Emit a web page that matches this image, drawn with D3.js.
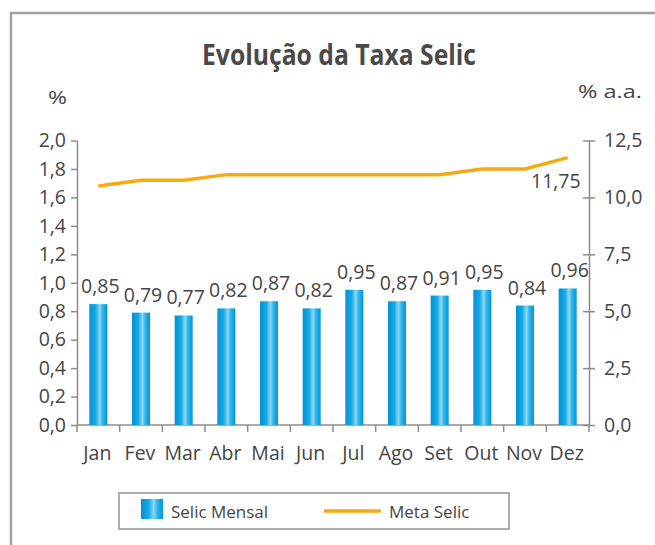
<!DOCTYPE html>
<html lang="pt">
<head>
<meta charset="UTF-8">
<title>Evolução da Taxa Selic</title>
<style>
  body { margin: 0; background: #fff; }
  text { font-family: "Open Sans", "Noto Sans", sans-serif; fill: #454545; }
  .axis path, .axis line { stroke: #8c8c8c; stroke-width: 1.5px; }
  .axis text { font-size: 19.5px; fill: #454545; }
</style>
<script src="https://d3js.org/d3.v7.min.js"></script>
</head>
<body>
<script>
// data
const months = ["Jan", "Fev", "Mar", "Abr", "Mai", "Jun", "Jul", "Ago", "Set", "Out", "Nov", "Dez"];
const selicMensal = [0.85, 0.79, 0.77, 0.82, 0.87, 0.82, 0.95, 0.87, 0.91, 0.95, 0.84, 0.96];
const metaSelic = [10.5, 10.75, 10.75, 11.0, 11.0, 11.0, 11.0, 11.0, 11.0, 11.25, 11.25, 11.75];
const leftTicks = [0, 0.2, 0.4, 0.6, 0.8, 1.0, 1.2, 1.4, 1.6, 1.8, 2.0];
const rightTicks = [0, 2.5, 5.0, 7.5, 10.0, 12.5];

const width = 655, height = 545;
const loc = d3.formatLocale({ decimal: ",", thousands: ".", grouping: [3], currency: ["R$", ""] });
const f1 = loc.format(".1f"), f2 = loc.format(".2f");

const svg = d3.select("body").append("svg")
  .attr("width", width).attr("height", height);

// gradient for the bars
const grad = svg.append("defs").append("linearGradient")
  .attr("id", "barGrad").attr("x1", "0%").attr("x2", "100%").attr("y1", "0%").attr("y2", "0%");
[["0%", "#0093d5"], ["35%", "#16a8e3"], ["58%", "#8ad8f5"], ["75%", "#2db3e8"], ["100%", "#0096d8"]]
  .forEach(([o, c]) => grad.append("stop").attr("offset", o).attr("stop-color", c));

// frame
svg.append("rect")
  .attr("x", 11).attr("y", 13).attr("width", 700).attr("height", 600)
  .attr("fill", "none").attr("stroke", "#a3a3a3").attr("stroke-width", 2.5);

// title
svg.append("text")
  .attr("x", 339).attr("y", 65)
  .attr("text-anchor", "middle")
  .attr("font-size", 28).attr("font-weight", "bold")
  .attr("textLength", 274).attr("lengthAdjust", "spacingAndGlyphs")
  .style("fill", "#4a4a4a")
  .text("Evolução da Taxa Selic");

svg.append("text").attr("x", 48).attr("y", 104).attr("font-size", 19)
  .attr("textLength", 19).attr("lengthAdjust", "spacingAndGlyphs").text("%");
svg.append("text").attr("x", 578).attr("y", 98).attr("font-size", 19)
  .attr("textLength", 64).attr("lengthAdjust", "spacingAndGlyphs").text("% a.a.");

const x0 = 77, x1 = 589, yBottom = 425, yTop = 140.5;
const x = d3.scaleBand().domain(months).range([x0, x1]).padding(0);
const yL = d3.scaleLinear().domain([0, 2]).range([yBottom, yTop]);
const yR = d3.scaleLinear().domain([0, 12.5]).range([yBottom, yTop]);

// left axis
svg.append("g").attr("class", "axis").attr("transform", `translate(${x0},0)`)
  .call(d3.axisLeft(yL).tickValues(leftTicks).tickFormat(f1).tickSize(6).tickSizeOuter(0).tickPadding(5));

// right axis, ticks cross the line
const gR = svg.append("g").attr("class", "axis").attr("transform", `translate(${x1},0)`)
  .call(d3.axisRight(yR).tickValues(rightTicks).tickFormat(f1).tickSize(6).tickSizeOuter(0).tickPadding(9));
gR.selectAll(".tick line").attr("x1", -6);

// bottom axis
const gB = svg.append("g").attr("class", "axis");
gB.append("line").attr("x1", x0).attr("x2", x1).attr("y1", yBottom).attr("y2", yBottom);
gB.selectAll(".tk").data(months.concat(["end"])).enter().append("line")
  .attr("x1", (d, i) => i < months.length ? x(d) : x1)
  .attr("x2", (d, i) => i < months.length ? x(d) : x1)
  .attr("y1", yBottom).attr("y2", yBottom + 7);
gB.selectAll(".lbl").data(months).enter().append("text")
  .attr("x", d => x(d) + x.bandwidth() / 2 - 1).attr("y", 460)
  .attr("text-anchor", "middle")
  .text(d => d);

// bars
const barW = 18;
svg.selectAll(".bar").data(selicMensal).enter().append("rect")
  .attr("x", (d, i) => x(months[i]) + x.bandwidth() / 2 - barW / 2)
  .attr("y", d => yL(d))
  .attr("width", barW)
  .attr("height", d => yBottom - yL(d))
  .attr("fill", "url(#barGrad)");

svg.selectAll(".blabel").data(selicMensal).enter().append("text")
  .attr("x", (d, i) => x(months[i]) + x.bandwidth() / 2 + 2)
  .attr("y", d => yL(d) - 11)
  .attr("text-anchor", "middle")
  .attr("font-size", 19.5)
  .text(d => f2(d));

// meta line
const line = d3.line()
  .x((d, i) => x(months[i]) + x.bandwidth() / 2)
  .y(d => yR(d));
svg.append("path").datum(metaSelic)
  .attr("d", line)
  .attr("fill", "none").attr("stroke", "#f7a912").attr("stroke-width", 3.5);

const last = metaSelic.length - 1;
svg.append("text")
  .attr("x", x(months[last]) + x.bandwidth() / 2 + 13)
  .attr("y", yR(metaSelic[last]) + 30)
  .attr("text-anchor", "end")
  .attr("font-size", 19.5)
  .text(f2(metaSelic[last]));

// legend
const lg = svg.append("g");
lg.append("rect").attr("x", 119).attr("y", 493).attr("width", 390).attr("height", 36)
  .attr("fill", "#fff").attr("stroke", "#939393").attr("stroke-width", 1.5);
lg.append("rect").attr("x", 141).attr("y", 499).attr("width", 22).attr("height", 20)
  .attr("fill", "url(#barGrad)");
lg.append("text").attr("x", 171).attr("y", 518).attr("font-size", 17).text("Selic Mensal");
lg.append("line").attr("x1", 324).attr("x2", 381).attr("y1", 511).attr("y2", 511)
  .attr("stroke", "#f7a912").attr("stroke-width", 3.5);
lg.append("text").attr("x", 389).attr("y", 518).attr("font-size", 17).text("Meta Selic");
</script>
</body>
</html>
